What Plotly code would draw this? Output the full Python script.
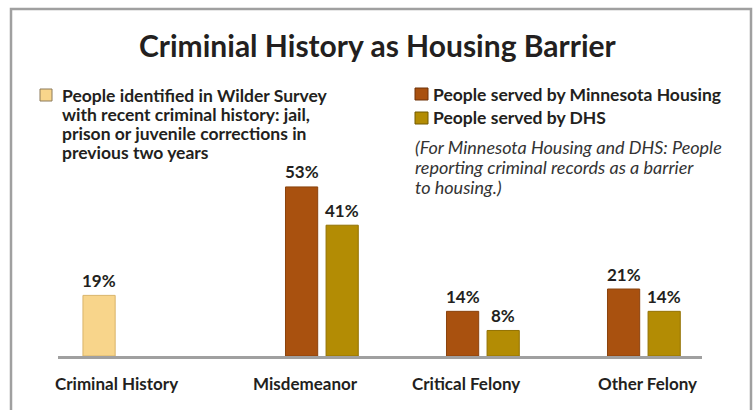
import plotly.graph_objects as go

# ---- data ----
categories = ["Criminal History", "Misdemeanor", "Critical Felony", "Other Felony"]
wilder_values = [19, None, None, None]
mh_values = [None, 53, 14, 21]
dhs_values = [None, 41, 8, 14]
wilder_legend_lines = [
    "People identified in Wilder Survey",
    "with recent criminal history: jail,",
    "prison or juvenile corrections in",
    "previous two years",
]
mh_name = "People served by Minnesota Housing"
dhs_name = "People served by DHS"
note_lines = [
    "(For Minnesota Housing and DHS: People",
    "reporting criminal records as a barrier",
    "to housing.)",
]
title_text = "Criminial History as Housing Barrier"

# ---- layout constants ----
W, H = 755, 410
ML, MR, MT, MB = 58, 53, 80, 54
PW, PH = W - ML - MR, H - MT - MB
UNIT = PW / 4.0
FONT = "Lato"
TXT = "#231f20"

colors = ["#F8D58B", "#A9510F", "#B38C04"]
edges = ["#D9B46A", "#8A420C", "#937203"]
offsets = [-0.345, -0.087, 0.165]
BW = 0.2


def px2x(px):
    return (px - ML) / PW


def py2y(py):
    return (H - MB - py) / PH


fig = go.Figure()
for vals, name, col, edge, off in zip([wilder_values, mh_values, dhs_values],
                                      [wilder_legend_lines[0], mh_name, dhs_name], colors, edges, offsets):
    fig.add_trace(go.Bar(
        x=categories, y=vals, name=name,
        marker=dict(color=col, line=dict(color=edge, width=1)),
        offset=off, width=BW, showlegend=False,
        hoverinfo="skip",
    ))

annotations = []
# value labels
for vals, off in zip([wilder_values, mh_values, dhs_values], offsets):
    for c, v in zip(categories, vals):
        if v is None:
            continue
        annotations.append(dict(
            x=c, y=v, xref="x", yref="y", text=f"{v}%", showarrow=False,
            xshift=(off + BW / 2) * UNIT, yshift=15, yanchor="middle",
            font=dict(family=FONT, size=17, color=TXT, weight="bold"),
        ))

# category labels
label_shifts = [-22.5, 5.5, 5.5, 25.5]
for c, s in zip(categories, label_shifts):
    annotations.append(dict(
        x=c, y=0, xref="x", yref="paper", text=c, showarrow=False,
        xshift=s, yshift=-27, yanchor="middle",
        font=dict(family=FONT, size=17, color=TXT, weight="bold"),
    ))

# title
annotations.append(dict(
    x=px2x(378), y=py2y(45), xref="paper", yref="paper", text=title_text,
    showarrow=False, xanchor="center", yanchor="middle",
    font=dict(family=FONT, size=30, color=TXT, weight="bold"),
))


def text_line(px, py, txt, size, **fontkw):
    return dict(
        x=px2x(px), y=py2y(py), xref="paper", yref="paper", text=txt,
        showarrow=False, xanchor="left", yanchor="middle", align="left",
        font=dict(family=FONT, size=size, color=fontkw.pop("color", TXT), **fontkw),
    )


for i, line in enumerate(wilder_legend_lines):
    annotations.append(text_line(60, 95 + 19 * i, line, 17.5, weight="bold"))
annotations.append(text_line(431, 94, mh_name, 17.5, weight="bold"))
annotations.append(text_line(431, 118, dhs_name, 17.5, weight="bold"))
for i, line in enumerate(note_lines):
    annotations.append(text_line(413, 147 + 20 * i, line, 18, style="italic", color="#333333"))

shapes = [
    # outer frame
    dict(type="rect", xref="paper", yref="paper",
         x0=px2x(11), x1=px2x(751), y0=py2y(430), y1=py2y(9),
         line=dict(color="#A0A0A0", width=2.5), fillcolor="rgba(0,0,0,0)", layer="below"),
    # legend squares
    dict(type="rect", xref="paper", yref="paper",
         x0=px2x(40), x1=px2x(52), y0=py2y(101), y1=py2y(89),
         line=dict(color="#8C7A5A", width=1), fillcolor=colors[0]),
    dict(type="rect", xref="paper", yref="paper",
         x0=px2x(415), x1=px2x(428), y0=py2y(100), y1=py2y(88),
         line=dict(color="#6E3208", width=1), fillcolor=colors[1]),
    dict(type="rect", xref="paper", yref="paper",
         x0=px2x(415), x1=px2x(428), y0=py2y(124), y1=py2y(112),
         line=dict(color="#735B00", width=1), fillcolor=colors[2]),
]

fig.update_layout(
    width=W, height=H,
    margin=dict(l=ML, r=MR, t=MT, b=MB, pad=0),
    paper_bgcolor="white", plot_bgcolor="white",
    barmode="overlay",
    annotations=annotations, shapes=shapes,
    xaxis=dict(type="category", range=[-0.5, 3.5], showticklabels=False, ticks="",
               showgrid=False, zeroline=False, showline=True, linecolor="#A0A0A0", linewidth=3,
               fixedrange=True),
    yaxis=dict(range=[0, PH / 3.19], visible=False, showgrid=False, zeroline=False, fixedrange=True),
    font=dict(family=FONT, color=TXT),
)

fig.write_html("out.html", config={"displayModeBar": False},
               post_script="document.body.style.margin='0';document.body.style.padding='0';")
